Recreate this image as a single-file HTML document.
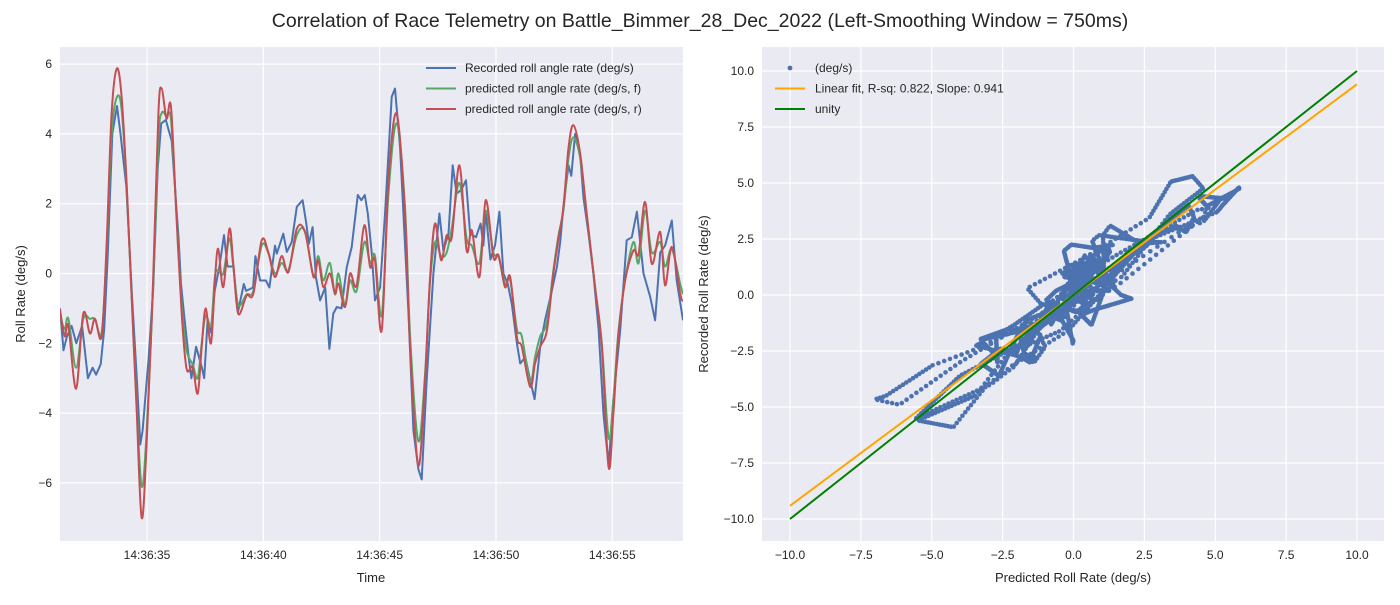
<!DOCTYPE html>
<html><head><meta charset="utf-8"><style>
body{margin:0;background:#fff;font-family:"Liberation Sans",sans-serif}
svg text{font-family:"Liberation Sans",sans-serif;fill:#262626}
</style></head><body>
<svg id="c" width="1400" height="600" xmlns="http://www.w3.org/2000/svg">
<text x="700" y="27" font-size="19.5" text-anchor="middle">Correlation of Race Telemetry on Battle_Bimmer_28_Dec_2022 (Left-Smoothing Window = 750ms)</text>
</svg>
<script>
// time in seconds after 14:36:31.26
const recT=[0,0.15,0.3,0.5,0.7,0.95,1.2,1.4,1.55,1.75,1.9,2.05,2.25,2.45,2.6,2.85,3.1,3.3,3.45,3.55,3.8,4.0,4.2,4.35,4.55,4.8,5.1,5.2,5.35,5.55,5.65,5.85,6.1,6.2,6.35,6.5,6.65,6.85,7.05,7.2,7.45,7.65,7.9,8.0,8.3,8.4,8.6,8.85,9.0,9.24,9.32,9.6,9.75,9.96,10.18,10.43,10.58,10.7,10.86,11.0,11.18,11.4,11.58,11.75,11.9,12.1,12.33,12.54,12.8,12.95,13.1,13.23,13.4,13.54,13.76,13.97,14.26,14.4,14.62,14.98,15.19,15.4,15.55,15.76,16.05,16.31,16.48,16.7,16.88,17.05,17.25,17.45,17.63,17.88,18.08,18.2,18.3,18.5,18.7,18.89,19.06,19.25,19.42,19.64,19.78,20.0,20.21,20.4,20.64,20.85,21.14,21.36,21.5,21.64,21.86,21.98,22.14,22.36,22.5,22.72,22.93,23.15,23.36,23.58,23.79,24.08,24.36,24.58,24.8,25.08,25.37,25.58,25.8,26.01,26.3,26.51,26.78];
const recV=[-1.0,-2.2,-1.8,-1.5,-2.0,-1.5,-3.0,-2.7,-2.9,-2.6,-1.6,0.5,4.0,4.8,4.0,2.5,-0.7,-3.0,-4.9,-4.5,-2.5,-0.5,3.0,4.3,4.4,3.8,1.0,-0.3,-1.3,-2.5,-3.0,-2.1,-2.7,-3.0,-1.3,-1.7,-0.5,0.2,1.1,0.2,0.2,-1.1,-0.3,-0.5,-0.4,0.5,-0.2,-0.2,-0.4,0.8,0.57,1.14,0.62,0.9,1.91,2.1,1.47,0.85,1.33,-0.1,-0.77,-0.4,-2.16,-1.15,-0.96,-1.0,0.19,0.76,2.25,2.1,2.25,1.72,0.6,-0.77,-0.4,1.7,5.06,5.3,3.6,-1.15,-4.49,-5.6,-5.9,-3.1,0.0,1.72,0.66,1.14,3.1,2.29,2.4,2.67,1.14,1.04,1.43,0.8,1.8,0.4,0.8,1.77,0.0,-0.3,-0.87,-2.0,-2.58,-2.4,-3.06,-3.6,-2.1,-1.34,-0.5,0.19,0.9,1.91,3.1,2.8,4.0,3.4,2.19,1.14,0.0,-1.6,-4.0,-5.5,-3.6,-1.63,0.95,1.04,1.77,0.0,-0.67,-1.34,0.6,0.8,1.52,-0.2,-1.34];
const predT=[0,0.2,0.36,0.69,1.0,1.29,1.5,1.79,2.0,2.22,2.44,2.65,2.87,3.08,3.3,3.51,3.72,4.0,4.23,4.37,4.58,4.77,5.0,5.23,5.44,5.7,5.92,6.09,6.26,6.49,6.66,6.8,7.02,7.28,7.45,7.66,8.02,8.31,8.67,8.95,9.24,9.53,9.82,10.18,10.53,10.9,11.1,11.32,11.6,11.82,11.97,12.25,12.47,12.75,13.08,13.33,13.54,13.83,14.12,14.47,14.83,15.05,15.4,15.69,15.9,16.12,16.38,16.62,16.84,17.17,17.48,17.7,18.03,18.3,18.63,18.85,19.13,19.35,19.64,19.85,20.21,20.42,20.64,20.93,21.21,21.43,21.64,21.86,22.07,22.36,22.64,23.0,23.29,23.58,23.79,24.0,24.29,24.65,24.87,25.15,25.44,25.8,26.01,26.3,26.66,26.78];
const predR=[-1.05,-1.8,-1.5,-3.3,-1.15,-1.72,-1.3,-1.8,0.76,4.58,5.87,5.06,2.48,-0.67,-4.0,-7.0,-4.97,-0.2,4.58,5.3,4.44,4.77,1.72,-1.15,-2.73,-2.68,-3.44,-2.1,-1.0,-2.0,-0.2,0.71,-0.39,1.28,0.28,-1.15,-0.63,-0.58,0.95,0.62,-0.1,0.5,0.04,1.28,1.19,-0.1,0.38,-0.39,0.0,-0.58,-0.29,-0.96,0.0,-0.34,1.38,0.19,0.38,-1.63,2.67,4.58,1.72,-2.1,-5.5,-3.06,-0.2,1.43,0.38,1.09,1.04,3.1,0.66,1.24,-0.1,2.1,0.47,0.52,-0.39,-0.1,-1.82,-2.1,-3.25,-2.58,-2.1,-1.63,0.0,1.0,1.91,3.6,4.25,3.43,1.72,-0.39,-2.1,-5.55,-4.0,-1.82,-0.2,0.66,0.57,2.05,0.28,1.19,-0.34,0.76,-0.58,-0.8];
const predF=[-1.2,-1.6,-1.3,-2.7,-1.3,-1.3,-1.3,-1.7,0.6,4.0,5.05,4.7,2.4,-0.7,-3.8,-6.1,-4.6,-0.4,3.8,4.6,4.5,4.4,1.8,-0.9,-2.2,-2.6,-3.0,-2.0,-1.2,-1.5,-0.1,0.1,0.0,1.0,0.2,-0.9,-0.6,-0.5,0.8,0.6,0.0,0.3,0.1,1.1,1.2,-0.1,0.5,-0.2,0.3,-0.6,0.0,-0.9,-0.2,-0.5,0.9,0.3,0.5,-1.2,2.3,4.3,1.9,-1.8,-4.8,-2.9,-0.3,0.9,0.5,0.6,1.3,2.6,1.0,0.8,0.3,1.8,0.6,0.5,-0.3,-0.2,-1.6,-1.8,-3.1,-2.4,-1.8,-1.4,0.1,1.1,1.8,3.3,3.9,3.3,1.7,-0.4,-2.0,-4.7,-3.6,-1.7,-0.2,0.9,0.3,1.8,0.6,0.9,0.2,0.7,-0.3,-0.6];
const timeTicks=[3.74,8.74,13.74,18.74,23.74];
const timeTickLabels=["14:36:35","14:36:40","14:36:45","14:36:50","14:36:55"];
const leftYTicks=[-6,-4,-2,0,2,4,6];
const rightTicks=[-10,-7.5,-5,-2.5,0,2.5,5,7.5,10];
const fitSlope=0.941, fitIntercept=0.0;

const NS="http://www.w3.org/2000/svg";
const svg=document.getElementById('c');
function mk(tag,attrs,parent){const e=document.createElementNS(NS,tag);for(const k in attrs)e.setAttribute(k,attrs[k]);(parent||svg).appendChild(e);return e;}
function fmt(v){return v.toFixed(1).replace('-','\u2212');}

// left axes
const L={x0:60,x1:683,y0:47,y1:541};
const lx=t=>L.x0+(t-0)*(L.x1-L.x0)/26.78;
const ly=v=>273.5-v*34.9;
const lbg=mk('rect',{x:L.x0,y:L.y0,width:L.x1-L.x0,height:L.y1-L.y0,fill:'#eaeaf2'});


timeTicks.forEach((t,i)=>{
  const g=mk('line',{x1:lx(t),x2:lx(t),y1:L.y0,y2:L.y1,stroke:'#fff','stroke-width':1.2});
  
  
  const tx=mk('text',{x:lx(t),y:559,'font-size':12,'text-anchor':'middle'});
  
  
  tx.textContent=timeTickLabels[i];
});
leftYTicks.forEach(v=>{
  const g=mk('line',{x1:L.x0,x2:L.x1,y1:ly(v),y2:ly(v),stroke:'#fff','stroke-width':1.2});
  
  
  const tx=mk('text',{x:52,y:ly(v)+4,'font-size':12,'text-anchor':'end'});
  
  
  tx.textContent=String(v).replace('-','\u2212');
});
function smoothPath(T,V,fx,fy){
  const p=T.map((t,i)=>[fx(t),fy(V[i])]);
  let d='M'+p[0][0].toFixed(1)+','+p[0][1].toFixed(1);
  for(let i=0;i<p.length-1;i++){
    const a=p[Math.max(0,i-1)],b=p[i],c=p[i+1],e=p[Math.min(p.length-1,i+2)];
    const c1=[b[0]+(c[0]-a[0])/6,b[1]+(c[1]-a[1])/6],c2=[c[0]-(e[0]-b[0])/6,c[1]-(e[1]-b[1])/6];
    d+=' C'+c1.map(n=>n.toFixed(1))+' '+c2.map(n=>n.toFixed(1))+' '+c[0].toFixed(1)+','+c[1].toFixed(1);
  }
  return d;
}
function linePath(T,V,fx,fy){return T.map((t,i)=>(i?'L':'M')+fx(t).toFixed(1)+','+fy(V[i]).toFixed(1)).join(' ');}
const clip=mk('clipPath',{id:'lc'});mk('rect',{x:L.x0,y:L.y0,width:L.x1-L.x0,height:L.y1-L.y0},clip);
const l1=mk('path',{d:linePath(recT,recV,lx,ly),fill:'none',stroke:'#4c72b0','stroke-width':2,'stroke-linejoin':'round','clip-path':'url(#lc)'});


const l2=mk('path',{d:smoothPath(predT,predF,lx,ly),fill:'none',stroke:'#55a868','stroke-width':2,'clip-path':'url(#lc)'});


const l3=mk('path',{d:smoothPath(predT,predR,lx,ly),fill:'none',stroke:'#c44e52','stroke-width':2,'clip-path':'url(#lc)'});


[['#4c72b0','Recorded roll angle rate (deg/s)'],['#55a868','predicted roll angle rate (deg/s, f)'],['#c44e52','predicted roll angle rate (deg/s, r)']].forEach((e,i)=>{
  const y=68+i*20.5;
  const ln=mk('line',{x1:426,x2:456,y1:y,y2:y,stroke:e[0],'stroke-width':2});
  
  
  const tx=mk('text',{x:465,y:y+4,'font-size':12});
  
  
  tx.textContent=e[1];
});
const xl=mk('text',{x:371,y:582,'font-size':13,'text-anchor':'middle'});


xl.textContent='Time';
const yl=mk('text',{x:0,y:0,'font-size':13,'text-anchor':'middle',transform:'translate(25,294) rotate(-90)'});


yl.textContent='Roll Rate (deg/s)';

// right axes
const R={x0:762,x1:1384,y0:47,y1:541};
const rx=v=>790+(v+10)*28.35;
const ry=v=>519-(v+10)*22.4;
const rbg=mk('rect',{x:R.x0,y:R.y0,width:R.x1-R.x0,height:R.y1-R.y0,fill:'#eaeaf2'});


rightTicks.forEach(v=>{
  const g=mk('line',{x1:rx(v),x2:rx(v),y1:R.y0,y2:R.y1,stroke:'#fff','stroke-width':1.2});
  
  
  const g2=mk('line',{x1:R.x0,x2:R.x1,y1:ry(v),y2:ry(v),stroke:'#fff','stroke-width':1.2});
  
  
  const tx=mk('text',{x:rx(v),y:559,'font-size':12,'text-anchor':'middle'});
  
  
  tx.textContent=fmt(v);
  const ty=mk('text',{x:754,y:ry(v)+4,'font-size':12,'text-anchor':'end'});
  
  
  ty.textContent=fmt(v);
});
function interp(T,V,t){if(t<=T[0])return V[0];for(let i=1;i<T.length;i++){if(t<=T[i]){const f=(t-T[i-1])/(T[i]-T[i-1]);return V[i-1]+f*(V[i]-V[i-1]);}}return V[V.length-1];}
const sg=mk('g',{fill:'#4c72b0'});


for(let t=0;t<=26.78;t+=0.012){
  const px=interp(predT,predR,t),py=interp(recT,recV,t);
  const c=mk('circle',{cx:rx(px).toFixed(1),cy:ry(py).toFixed(1),r:2.3},sg);
  
  
}
const fit=mk('line',{x1:rx(-10),y1:ry(fitSlope*-10+fitIntercept),x2:rx(10),y2:ry(fitSlope*10+fitIntercept),stroke:'#ffa500','stroke-width':2});


const uni=mk('line',{x1:rx(-10),y1:ry(-10),x2:rx(10),y2:ry(10),stroke:'#008000','stroke-width':2});


const ld=mk('circle',{cx:790,cy:68,r:2.4,fill:'#4c72b0'});


[[null,'(deg/s)'],['#ffa500','Linear fit, R-sq: 0.822, Slope: 0.941'],['#008000','unity']].forEach((e,i)=>{
  const y=68+i*20.5;
  if(e[0]){const ln=mk('line',{x1:775,x2:805,y1:y,y2:y,stroke:e[0],'stroke-width':2});
    
    }
  const tx=mk('text',{x:815,y:y+4,'font-size':12});
  
  
  tx.textContent=e[1];
});
const rxl=mk('text',{x:1073,y:582,'font-size':13,'text-anchor':'middle'});


rxl.textContent='Predicted Roll Rate (deg/s)';
const ryl=mk('text',{x:0,y:0,'font-size':13,'text-anchor':'middle',transform:'translate(708,294) rotate(-90)'});


ryl.textContent='Recorded Roll Rate (deg/s)';
</script>
</body></html>
